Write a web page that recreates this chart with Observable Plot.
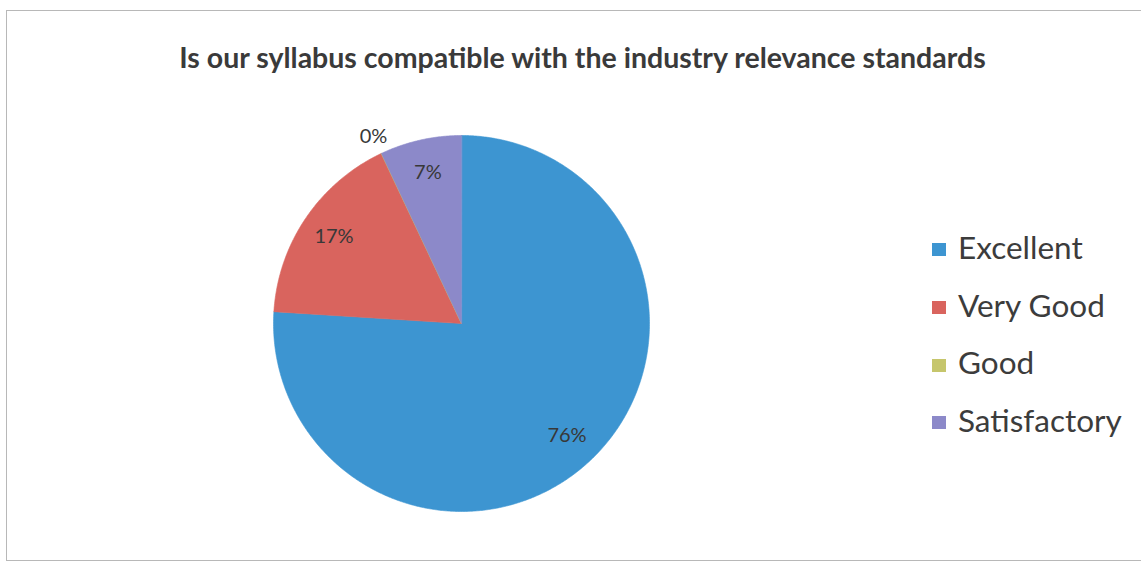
<!DOCTYPE html>
<html>
<head>
<meta charset="utf-8">
<script src="https://cdn.jsdelivr.net/npm/d3@7"></script>
<script src="https://cdn.jsdelivr.net/npm/@observablehq/plot@0.6"></script>
<style>
  html, body { margin: 0; padding: 0; background: #fff; }
  #wrap { position: relative; width: 1141px; height: 579px; overflow: hidden; font-family: Lato, "Open Sans", sans-serif; }
  #frame { position: absolute; left: 6px; top: 10px; width: 1150px; height: 551px; border: 1px solid #b8b8b8; box-sizing: border-box; }
  #title { position: absolute; left: 0; top: 40px; width: 1165px; text-align: center; font-weight: 700; font-size: 28.5px; color: #3a3a3a; white-space: nowrap; line-height: 1.2; }
  #chart { position: absolute; left: 0; top: 0; }
  #legend { position: absolute; left: 932px; top: 219px; }
  .item { display: flex; align-items: center; height: 57.7px; font-size: 31.5px; color: #3c3c3c; line-height: 1; }
  .item .sw { width: 14px; height: 13px; margin-right: 12px; flex: none; position: relative; top: 2px; }
</style>
</head>
<body>
<div id="wrap">
  <div id="frame"></div>
  <div id="chart"></div>
  <div id="title"></div>
  <div id="legend"></div>
</div>
<script>
const chartTitle = "Is our syllabus compatible with the industry relevance standards";
const categories = ["Excellent", "Very Good", "Good", "Satisfactory"];
const values = [76, 17, 0, 7];
const colors = ["#3d95d1", "#d9645e", "#c6c66c", "#8c89c9"];
const labelTexts = ["76%", "17%", "0%", "7%"];

const data = categories.map((c, i) => ({cat: c, value: values[i], label: labelTexts[i]}));
const arcs = d3.pie().sort(null).value(d => d.value)(data);

// polygon points for each slice in unit-circle coordinates (y up)
const pts = [];
for (const a of arcs) {
  pts.push({cat: a.data.cat, x: 0, y: 0});
  const n = Math.max(2, Math.ceil((a.endAngle - a.startAngle) / (Math.PI / 360)));
  for (let k = 0; k <= n; k++) {
    const t = a.startAngle + (a.endAngle - a.startAngle) * k / n;
    pts.push({cat: a.data.cat, x: Math.sin(t), y: Math.cos(t)});
  }
}
const labels = arcs.map(a => {
  const m = (a.startAngle + a.endAngle) / 2;
  const r = a.data.value === 0 ? 1.1 : 0.82;
  return {x: r * Math.sin(m), y: r * Math.cos(m), text: a.data.label};
});

const R = 188, cx = 461, cy = 323, W = 1141, H = 579;
const plot = Plot.plot({
  width: W, height: H, margin: 0,
  x: {domain: [-cx / R, (W - cx) / R], axis: null},
  y: {domain: [-(H - cy) / R, cy / R], axis: null},
  color: {domain: categories, range: colors},
  style: {background: "transparent"},
  marks: [
    Plot.line(pts, {x: "x", y: "y", z: "cat", fill: "cat", stroke: "cat", strokeWidth: 0.6, curve: "linear-closed"}),
    Plot.text(labels, {x: "x", y: "y", text: "text", fontSize: 20, fill: "#383838", fontFamily: "Lato, sans-serif"})
  ]
});
document.getElementById("chart").appendChild(plot);
document.getElementById("title").textContent = chartTitle;

const legend = document.getElementById("legend");
categories.forEach((c, i) => {
  const row = document.createElement("div");
  row.className = "item";
  const sw = document.createElement("span");
  sw.className = "sw";
  sw.style.background = colors[i];
  const lbl = document.createElement("span");
  lbl.textContent = c;
  row.appendChild(sw);
  row.appendChild(lbl);
  legend.appendChild(row);
});
</script>
</body>
</html>
